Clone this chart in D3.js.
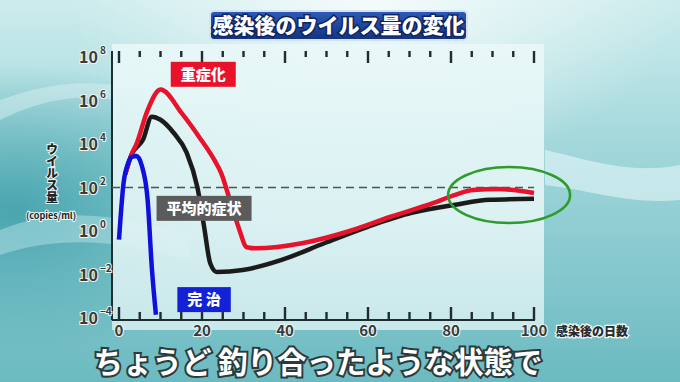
<!DOCTYPE html>
<html>
<head>
<meta charset="utf-8">
<script src="https://cdn.jsdelivr.net/npm/d3@7"></script>
<style>
  html, body { margin: 0; padding: 0; background: #9fd6da; }
  svg { display: block; font-family: "Noto Sans CJK JP", "Noto Sans", sans-serif; }
</style>
</head>
<body>
<div id="chart"></div>
<script>
// ---- data ----
const title = "感染後のウイルス量の変化";
const subtitle = "ちょうど 釣り合ったような状態で";
const xLabel = "感染後の日数";
const yLabel = "ウイルス量";
const yUnit = "(copies/ml)";
const xTicks = [0, 20, 40, 60, 80, 100];
const xMinorTicks = [0, 5, 10, 15, 20, 25, 30, 35, 40, 45, 50, 55, 60, 65, 70, 75, 80, 85, 90, 95, 100];
const yTickExps = [-4, -2, 0, 2, 4, 6, 8];
const thresholdValue = 1e2;

// 完治
const blueDays = [0, 1.1, 2.2, 3, 4.2, 5.5, 6.9, 7.9, 8.9];
const blueValues = [0.4, 160, 1300, 2500, 2800, 1000, 27, 0.022, 0.00014];

// 平均的症状
const blackDays = [1.5, 3, 5.8, 7.9, 10, 13.2, 16.3, 18.9, 20.5, 22, 23.6, 29.8, 39.2, 49.6, 60.1, 70.5, 81, 89.4, 100];
const blackValues = [400, 3200, 16000, 180000, 130000, 32000, 4000, 100, 1.6, 0.032, 0.013, 0.016, 0.047, 0.28, 1.6, 6.8, 16, 27, 30];

// 重症化
const redDays = [1.5, 3, 4.2, 6.9, 10, 15.2, 19.4, 23, 24.6, 26.7, 28.8, 30.8, 33, 44.4, 54.8, 65.3, 75.8, 81, 85.3, 91.5, 100];
const redValues = [400, 3200, 10000, 360000, 3200000, 250000, 20000, 1800, 470, 27, 1.5, 0.18, 0.16, 0.28, 0.9, 4.4, 19.5, 46, 76, 85, 56];

const labels = [
  { text: "重症化", color: "#e8132b", day: 20.3, value: 1.6e7 },
  { text: "平均的症状", color: "#5b5b5b", day: 20.5, value: 11 },
  { text: "完 治", color: "#1322d6", day: 20.5, value: 7e-4 }
];

// ---- layout ----
const W = 680, H = 382;
const svg = d3.select("#chart").append("svg").attr("width", W).attr("height", H);
const defs = svg.append("defs");

const x = d3.scaleLinear().domain([0, 100]).range([119, 534]);
const y = d3.scaleLog().domain([1e-4, 1e8]).range([318, 57]);
const axisX0 = 112, axisY0 = 320, axisTop = 51;
const axisColor = "#1f2d31";

// ---- background ----
const bg = defs.append("linearGradient").attr("id", "bg").attr("x1", 0).attr("y1", 0).attr("x2", 0).attr("y2", 1);
bg.append("stop").attr("offset", "0%").attr("stop-color", "#cdeced");
bg.append("stop").attr("offset", "45%").attr("stop-color", "#9bd4d8");
bg.append("stop").attr("offset", "100%").attr("stop-color", "#6cbac1");
svg.append("rect").attr("width", W).attr("height", H).attr("fill", "url(#bg)");

const leftShade = defs.append("radialGradient").attr("id", "leftShade").attr("cx", 0.02).attr("cy", 0.55).attr("r", 0.38);
leftShade.append("stop").attr("offset", "0%").attr("stop-color", "#45a3ad").attr("stop-opacity", 0.95);
leftShade.append("stop").attr("offset", "100%").attr("stop-color", "#45a3ad").attr("stop-opacity", 0);
svg.append("rect").attr("width", W).attr("height", H).attr("fill", "url(#leftShade)");

const topGlow = defs.append("radialGradient").attr("id", "topGlow").attr("cx", 0.55).attr("cy", 0.0).attr("r", 0.45);
topGlow.append("stop").attr("offset", "0%").attr("stop-color", "#ffffff").attr("stop-opacity", 0.8);
topGlow.append("stop").attr("offset", "100%").attr("stop-color", "#ffffff").attr("stop-opacity", 0);
svg.append("rect").attr("width", W).attr("height", H).attr("fill", "url(#topGlow)");

// soft waves
svg.append("path")
  .attr("d", "M0,230 C60,205 120,215 190,235 L190,260 C120,240 60,235 0,255 Z")
  .attr("fill", "#bfe7ea").attr("opacity", 0.45);
svg.append("path")
  .attr("d", "M545,150 C590,160 630,175 680,165 L680,200 C630,205 590,190 545,185 Z")
  .attr("fill", "#e6f7f8").attr("opacity", 0.6);
svg.append("path")
  .attr("d", "M0,120 C50,95 90,95 115,100 L115,85 C80,80 40,85 0,100 Z")
  .attr("fill", "#d7f0f1").attr("opacity", 0.5);

// plot panel
const panel = defs.append("linearGradient").attr("id", "panel").attr("x1", 0).attr("y1", 0).attr("x2", 0).attr("y2", 1);
panel.append("stop").attr("offset", "0%").attr("stop-color", "#e9f8f8");
panel.append("stop").attr("offset", "60%").attr("stop-color", "#e2f4f5");
panel.append("stop").attr("offset", "100%").attr("stop-color", "#cfebed");
svg.append("rect")
  .attr("x", axisX0).attr("y", 44).attr("width", 544 - axisX0).attr("height", 286)
  .attr("fill", "url(#panel)").attr("opacity", 0.92);

// ---- title ----
const tg = defs.append("linearGradient").attr("id", "titleGrad").attr("x1", 0).attr("y1", 0).attr("x2", 0).attr("y2", 1);
tg.append("stop").attr("offset", "0%").attr("stop-color", "#2c5bb8");
tg.append("stop").attr("offset", "100%").attr("stop-color", "#13337e");
svg.append("rect")
  .attr("x", 210).attr("y", 11).attr("width", 257).attr("height", 29).attr("rx", 4)
  .attr("fill", "url(#titleGrad)").attr("stroke", "#d4e2f4").attr("stroke-width", 2);
svg.append("text")
  .attr("x", 338.5).attr("y", 33).attr("text-anchor", "middle")
  .attr("font-size", 21).attr("font-weight", 900).attr("fill", "#ffffff")
  .attr("stroke", "#0d2460").attr("stroke-width", 3).attr("paint-order", "stroke")
  .text(title);

// ---- axes ----
const tickLen = d => (d % 20 === 0 ? 13 : 8);
const topTickLen = d => (d % 20 === 0 ? 12 : 6);

// tick marks drawn as one path each (bottom / top)
svg.append("path")
  .attr("d", xMinorTicks.map(d => `M${x(d)},${axisY0}V${axisY0 - tickLen(d)}`).join(""))
  .attr("fill", "none").attr("stroke", axisColor).attr("stroke-width", 2.4);
svg.append("path")
  .attr("d", xMinorTicks.map(d => `M${x(d)},${axisTop}V${axisTop + topTickLen(d)}`).join(""))
  .attr("fill", "none").attr("stroke", axisColor).attr("stroke-width", 2.4);

svg.append("line").attr("x1", axisX0).attr("x2", axisX0).attr("y1", axisTop).attr("y2", axisY0)
  .attr("stroke", axisColor).attr("stroke-width", 2);
svg.append("line").attr("x1", axisX0).attr("x2", x(100) + 1).attr("y1", axisY0).attr("y2", axisY0)
  .attr("stroke", axisColor).attr("stroke-width", 2);

// x tick labels
svg.append("g").selectAll("text")
  .data(xTicks).join("text")
  .attr("x", d => x(d)).attr("y", 336).attr("text-anchor", "middle")
  .attr("font-size", 15).attr("font-weight", 700).attr("fill", "#3a3a3a")
  .attr("stroke", "#e9f7f7").attr("stroke-width", 2).attr("paint-order", "stroke")
  .text(d => d);

svg.append("text")
  .attr("x", 556).attr("y", 336)
  .attr("font-size", 12).attr("font-weight", 900).attr("fill", "#2a2a2a")
  .attr("stroke", "#eef9f9").attr("stroke-width", 2.5).attr("paint-order", "stroke")
  .text(xLabel);

// y tick labels 10^n
const yt = svg.append("g").selectAll("text")
  .data(yTickExps).join("text")
  .attr("x", 79).attr("y", d => y(Math.pow(10, d)) + 6)
  .attr("font-weight", 700).attr("fill", "#3a3a3a")
  .attr("stroke", "#e9f7f7").attr("stroke-width", 2).attr("paint-order", "stroke");
yt.append("tspan").attr("font-size", 16).text("10");
yt.append("tspan").attr("font-size", 10).attr("dx", 2).attr("dy", -9)
  .text(d => (d < 0 ? "\u2212" + (-d) : d));

// y label (vertical)
svg.append("text")
  .attr("x", 52).attr("y", 173).attr("text-anchor", "middle")
  .attr("writing-mode", "vertical-rl")
  .attr("font-size", 12).attr("font-weight", 900).attr("fill", "#222")
  .attr("stroke", "#e9f7f7").attr("stroke-width", 2).attr("paint-order", "stroke")
  .text(yLabel);
svg.append("text")
  .attr("x", 51).attr("y", 219).attr("text-anchor", "middle")
  .attr("font-size", 9).attr("font-weight", 700).attr("fill", "#222")
  .attr("stroke", "#e9f7f7").attr("stroke-width", 2).attr("paint-order", "stroke")
  .text(yUnit);

// threshold dashed line
svg.append("line")
  .attr("x1", axisX0).attr("x2", x(100)).attr("y1", y(thresholdValue)).attr("y2", y(thresholdValue))
  .attr("stroke", "#4a5558").attr("stroke-width", 1.6).attr("stroke-dasharray", "8,5");

// ---- curves ----
const line = d3.line()
  .x(d => x(d[0]))
  .y(d => y(d[1]))
  .curve(d3.curveMonotoneX);

const series = [
  { days: blackDays, values: blackValues, color: "#1b1b1b" },
  { days: redDays, values: redValues, color: "#e8132b" },
  { days: blueDays, values: blueValues, color: "#1010dc" }
];
svg.append("g").selectAll("path")
  .data(series).join("path")
  .attr("d", s => line(d3.zip(s.days, s.values)))
  .attr("fill", "none")
  .attr("stroke", s => s.color)
  .attr("stroke-width", 4.5)
  .attr("stroke-linejoin", "round")
  .attr("stroke-linecap", "butt");

// ---- label boxes ----
const lb = svg.append("g").selectAll("g")
  .data(labels).join("g")
  .attr("transform", d => `translate(${x(d.day)},${y(d.value)})`);
lb.append("text")
  .attr("text-anchor", "middle").attr("dy", "0.36em")
  .attr("font-size", 15).attr("font-weight", 900).attr("fill", "#fff")
  .attr("xml:space", "preserve")
  .text(d => d.text)
  .each(function (d) {
    const b = this.getBBox();
    d3.select(this.parentNode).insert("rect", "text")
      .attr("x", b.x - 10).attr("y", -12.5)
      .attr("width", b.width + 20).attr("height", 25)
      .attr("fill", d.color);
  });

// green ellipse
svg.append("ellipse")
  .attr("cx", x(94)).attr("cy", y(45)).attr("rx", 61).attr("ry", 28)
  .attr("fill", "none").attr("stroke", "#2f9b2c").attr("stroke-width", 2.6);

// ---- subtitle ----
svg.append("text")
  .attr("x", 318).attr("y", 373).attr("text-anchor", "middle")
  .attr("font-size", 29.5).attr("font-weight", 700).attr("fill", "#ffffff")
  .attr("stroke", "#2b3b3d").attr("stroke-width", 4).attr("paint-order", "stroke")
  .attr("xml:space", "preserve")
  .text(subtitle);
</script>
</body>
</html>
